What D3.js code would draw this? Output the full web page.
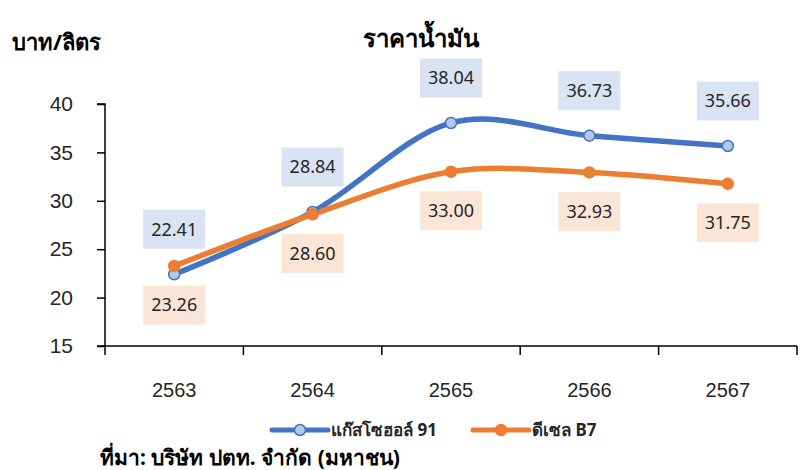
<!DOCTYPE html>
<html>
<head>
<meta charset="utf-8">
<script src="https://cdn.jsdelivr.net/npm/d3@7"></script>
<style>
  body { margin: 0; background: #fff; }
  svg { font-family: "Noto Sans", "DejaVu Sans", sans-serif; }
  .tick text { fill: #262626; }
</style>
</head>
<body>
<svg width="800" height="470"></svg>
<script>
const years = ['2563', '2564', '2565', '2566', '2567'];
const gasohol91 = [22.41, 28.84, 38.04, 36.73, 35.66];
const dieselB7 = [23.26, 28.60, 33.00, 32.93, 31.75];
const yTicks = [15, 20, 25, 30, 35, 40];
const seriesNames = ['แก๊สโซฮอล์ 91', 'ดีเซล B7'];

const svg = d3.select('svg');

const margin = { top: 104, right: 3, bottom: 124, left: 105 },
	width = 800,
	height = 470,
	innerWidth = width - margin.left - margin.right,
	innerHeight = height - margin.top - margin.bottom;

const xScale = d3.scaleBand()
	.domain(years)
	.range([0, innerWidth]);

const yScale = d3.scaleLinear()
	.domain([15, 40])
	.range([innerHeight, 0]);

const g = svg.append('g')
	.attr('transform', `translate(${margin.left}, ${margin.top})`);

// axes
const xAxis = d3.axisBottom(xScale)
	.tickSize(0)
	.tickPadding(37);
const xAxisG = g.append('g')
	.attr('transform', `translate(0, ${innerHeight})`)
	.call(xAxis);
xAxisG.select('.domain').remove();
xAxisG.selectAll('text').attr('font-size', 20);

// x tick marks at band edges
const edges = years.map(d => xScale(d)).concat([innerWidth]);
g.append('g').selectAll('line')
	.data(edges)
	.enter().append('line')
	.attr('x1', d => d).attr('x2', d => d)
	.attr('y1', innerHeight).attr('y2', innerHeight + 9)
	.attr('stroke', '#000').attr('stroke-width', 1.5);
g.append('line')
	.attr('x1', -8).attr('x2', innerWidth)
	.attr('y1', innerHeight).attr('y2', innerHeight)
	.attr('stroke', '#000').attr('stroke-width', 1.5);

const yAxis = d3.axisLeft(yScale)
	.tickValues(yTicks)
	.tickSize(8)
	.tickPadding(24);
const yAxisG = g.append('g').call(yAxis);
yAxisG.select('.domain').attr('stroke-width', 1.5).attr('d', `M-8,0H0V${innerHeight}`);
yAxisG.selectAll('.tick line').attr('stroke-width', 1.5);
yAxisG.selectAll('text').attr('font-size', 21);

// lines
const xPos = d => xScale(d) + xScale.bandwidth() / 2;
const line = d3.line()
	.x((d, i) => xPos(years[i]))
	.y(d => yScale(d))
	.curve(d3.curveCardinal.tension(0));

const series = [
	{ name: seriesNames[0], values: gasohol91, color: '#4472C4', marker: '#B4C7E7', box: '#DAE3F3', offset: -45 },
	{ name: seriesNames[1], values: dieselB7, color: '#ED7D31', marker: '#ED7D31', box: '#FBE5D6', offset: 39 }
];

series.forEach(s => {
	g.append('path')
		.attr('d', line(s.values))
		.attr('fill', 'none')
		.attr('stroke', s.color)
		.attr('stroke-width', 5.5)
		.attr('stroke-linecap', 'round');
});

series.forEach(s => {
	g.append('g').selectAll('circle')
		.data(s.values)
		.enter().append('circle')
		.attr('cx', (d, i) => xPos(years[i]))
		.attr('cy', d => yScale(d))
		.attr('r', 5.5)
		.attr('fill', s.marker)
		.attr('stroke', s.color)
		.attr('stroke-width', 1.5);
});

// data labels
const boxW = 62, boxH = 39;
series.forEach(s => {
	const lab = g.append('g').selectAll('g')
		.data(s.values)
		.enter().append('g')
		.attr('transform', (d, i) => `translate(${xPos(years[i])}, ${yScale(d) + s.offset})`);
	lab.append('rect')
		.attr('x', -boxW / 2).attr('y', -boxH / 2)
		.attr('width', boxW).attr('height', boxH)
		.attr('fill', s.box);
	lab.append('text')
		.attr('text-anchor', 'middle')
		.attr('dy', '0.35em')
		.attr('font-size', 18)
		.attr('fill', '#262626')
		.text(d => d.toFixed(2));
});

// titles
svg.append('text')
	.attr('x', 421).attr('y', 47)
	.attr('text-anchor', 'middle')
	.attr('font-size', 24).attr('font-weight', 'bold')
	.attr('fill', '#000')
	.text('ราคาน้ำมัน');

svg.append('text')
	.attr('x', 12).attr('y', 50)
	.attr('font-size', 22).attr('font-weight', 'bold')
	.attr('fill', '#000')
	.text('บาท/ลิตร');

// legend
const legendX = [272, 473];
const legend = svg.append('g').selectAll('g')
	.data(series)
	.enter().append('g')
	.attr('transform', (d, i) => `translate(${legendX[i]}, 430)`);
legend.append('line')
	.attr('x1', 0).attr('x2', 56)
	.attr('stroke', d => d.color).attr('stroke-width', 5)
	.attr('stroke-linecap', 'round');
legend.append('circle')
	.attr('cx', 28).attr('r', 5.5)
	.attr('fill', d => d.marker)
	.attr('stroke', d => d.color).attr('stroke-width', 1.5);
legend.append('text')
	.attr('x', 59).attr('dy', '0.35em')
	.attr('font-size', 17).attr('font-weight', 'bold')
	.attr('fill', '#262626')
	.text(d => d.name);

svg.append('text')
	.attr('x', 100).attr('y', 465)
	.attr('font-size', 21).attr('font-weight', 'bold')
	.attr('fill', '#000')
	.text('ที่มา: บริษัท ปตท. จำกัด (มหาชน)');
</script>
</body>
</html>
